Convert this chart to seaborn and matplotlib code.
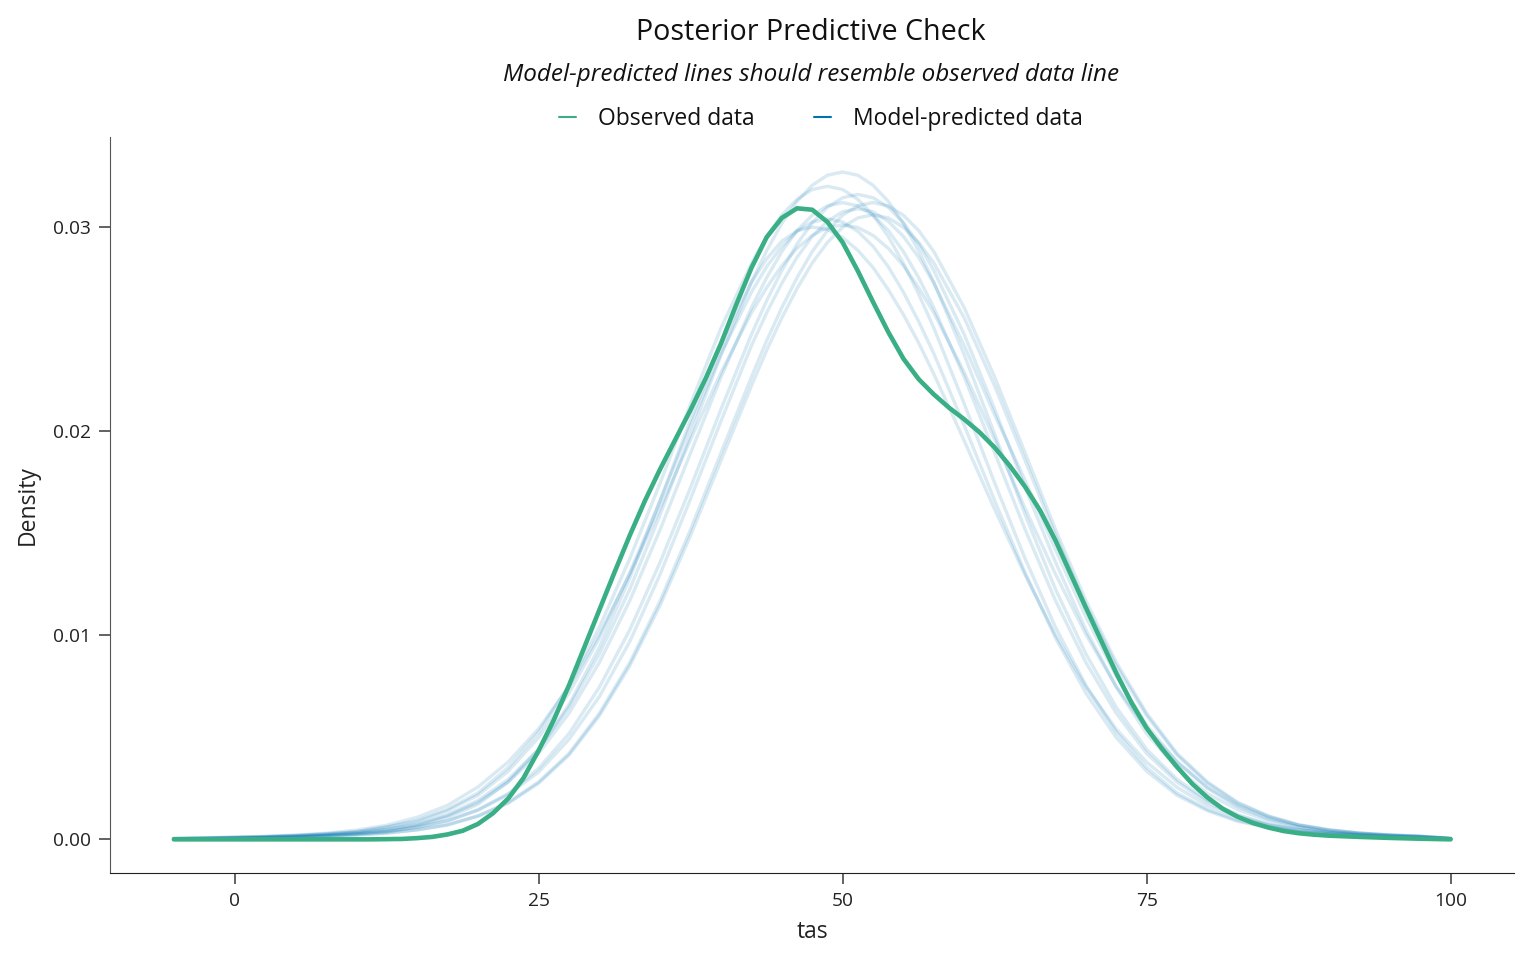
import numpy as np
import pandas as pd
import matplotlib
matplotlib.use("Agg")
import matplotlib.pyplot as plt
from matplotlib.lines import Line2D
import seaborn as sns

obs_tas = [-5, -2.5, 0, 2.5, 5, 7.5,
           10, 11.25, 12.5, 13.75, 15, 16.25, 17.5, 18.75, 20, 21.25, 22.5, 23.75,
           25, 26.25, 27.5, 28.75, 30, 31.25, 32.5, 33.75, 35, 36.25, 37.5, 38.75,
           40, 41.25, 42.5, 43.75, 45, 46.25, 47.5, 48.75, 50, 51.25, 52.5, 53.75,
           55, 56.25, 57.5, 58.75, 60, 61.25, 62.5, 63.75, 65, 66.25, 67.5, 68.75,
           70, 71.25, 72.5, 73.75, 75, 76.25, 77.5, 78.75, 80, 81.25, 82.5, 83.75,
           85, 86.25, 87.5, 88.75, 90,
           92.5, 95, 97.5, 100]
observed = [0.0, 0.0, 0.0, 0.0, 0.0, 0.0,
            0.0, 0.0, 0.00001, 0.00002, 0.00006, 0.00012, 0.00024, 0.00042, 0.00075,
            0.00128, 0.00200, 0.00300, 0.00435, 0.00585, 0.00755, 0.00940, 0.01125,
            0.01310, 0.01490, 0.01660, 0.01815, 0.01960, 0.02105, 0.02260, 0.02430,
            0.02620, 0.02800, 0.02950, 0.03045, 0.03092, 0.03085, 0.03025, 0.02925,
            0.02785, 0.02633, 0.02486, 0.02355, 0.02255, 0.02180, 0.02115, 0.02058,
            0.01995, 0.01920, 0.01830, 0.01728, 0.01610, 0.01465, 0.01300, 0.01135,
            0.00975, 0.00815, 0.00670, 0.00545, 0.00445, 0.00355, 0.00272, 0.00205,
            0.00150, 0.00110, 0.00080, 0.00058, 0.00041, 0.00030, 0.00023, 0.00018,
            0.00012, 0.00007, 0.00003, 0.0]

# model-predicted densities, one list per posterior draw
pred_tas = [-5, -2.5, 0, 2.5, 5, 7.5, 10, 12.5, 15, 17.5, 20, 22.5, 25, 27.5, 30, 32.5,
            35, 37.5, 40, 42.5,
            43.75, 45, 46.25, 47.5, 48.75, 50, 51.25, 52.5, 53.75, 55, 56.25,
            57.5, 60, 62.5, 65, 67.5, 70, 72.5, 75, 77.5, 80, 82.5, 85, 87.5, 90,
            92.5, 95, 97.5, 100]
pred_1 = [0.00003, 0.00006, 0.00008, 0.00011, 0.00016, 0.00023, 0.00033, 0.00049, 0.00075, 0.00121,
          0.00190, 0.00294, 0.00441, 0.00647, 0.00909, 0.01226, 0.01592, 0.01985, 0.02374, 0.02730,
          0.02884, 0.03018, 0.03126, 0.03205, 0.03254, 0.03270, 0.03254, 0.03205, 0.03126, 0.03018, 0.02884,
          0.02730, 0.02374, 0.01985, 0.01592, 0.01226, 0.00909, 0.00647, 0.00441, 0.00294, 0.00190,
          0.00121, 0.00075, 0.00049, 0.00033, 0.00023, 0.00016, 0.00011, 0.00003]
pred_2 = [0.00004, 0.00006, 0.00010, 0.00013, 0.00019, 0.00027, 0.00038, 0.00061, 0.00093, 0.00147,
          0.00227, 0.00352, 0.00525, 0.00755, 0.01040, 0.01376, 0.01747, 0.02134, 0.02506, 0.02822,
          0.02954, 0.03059, 0.03136, 0.03184, 0.03200, 0.03184, 0.03136, 0.03059, 0.02954, 0.02822, 0.02672,
          0.02506, 0.02134, 0.01747, 0.01376, 0.01040, 0.00755, 0.00525, 0.00352, 0.00227, 0.00147,
          0.00093, 0.00061, 0.00038, 0.00027, 0.00019, 0.00013, 0.00010, 0.00003]
pred_3 = [0.00003, 0.00004, 0.00006, 0.00009, 0.00013, 0.00019, 0.00027, 0.00038, 0.00060, 0.00092,
          0.00145, 0.00224, 0.00348, 0.00518, 0.00746, 0.01027, 0.01359, 0.01725, 0.02108, 0.02474,
          0.02639, 0.02787, 0.02917, 0.03021, 0.03097, 0.03144, 0.03160, 0.03144, 0.03097, 0.03021, 0.02917,
          0.02787, 0.02474, 0.02108, 0.01725, 0.01359, 0.01027, 0.00746, 0.00518, 0.00348, 0.00224,
          0.00145, 0.00092, 0.00060, 0.00038, 0.00027, 0.00019, 0.00013, 0.00004]
pred_4 = [0.00002, 0.00003, 0.00005, 0.00008, 0.00011, 0.00016, 0.00022, 0.00031, 0.00047, 0.00072,
          0.00115, 0.00181, 0.00281, 0.00421, 0.00618, 0.00867, 0.01170, 0.01519, 0.01894, 0.02265,
          0.02443, 0.02605, 0.02752, 0.02880, 0.02983, 0.03058, 0.03104, 0.03120, 0.03104, 0.03058, 0.02983,
          0.02880, 0.02605, 0.02265, 0.01894, 0.01519, 0.01170, 0.00867, 0.00618, 0.00421, 0.00281,
          0.00181, 0.00115, 0.00072, 0.00047, 0.00031, 0.00022, 0.00016, 0.00005]
pred_5 = [0.00003, 0.00004, 0.00006, 0.00009, 0.00013, 0.00019, 0.00026, 0.00037, 0.00059, 0.00090,
          0.00142, 0.00219, 0.00330, 0.00490, 0.00700, 0.00970, 0.01300, 0.01670, 0.02050, 0.02419,
          0.02580, 0.02725, 0.02852, 0.02954, 0.03028, 0.03075, 0.03090, 0.03075, 0.03028, 0.02954, 0.02852,
          0.02725, 0.02419, 0.02080, 0.01760, 0.01420, 0.01090, 0.00800, 0.00560, 0.00380, 0.00250,
          0.00160, 0.00100, 0.00062, 0.00039, 0.00027, 0.00019, 0.00013, 0.00004]
pred_6 = [0.00004, 0.00006, 0.00009, 0.00013, 0.00018, 0.00026, 0.00036, 0.00058, 0.00088, 0.00140,
          0.00216, 0.00334, 0.00499, 0.00717, 0.00988, 0.01307, 0.01660, 0.02028, 0.02380, 0.02681,
          0.02806, 0.02906, 0.02979, 0.03025, 0.03040, 0.03025, 0.02979, 0.02906, 0.02806, 0.02681, 0.02538,
          0.02380, 0.02028, 0.01660, 0.01307, 0.00988, 0.00717, 0.00499, 0.00334, 0.00216, 0.00140,
          0.00088, 0.00058, 0.00036, 0.00026, 0.00018, 0.00013, 0.00009, 0.00003]
pred_7 = [0.00005, 0.00008, 0.00011, 0.00015, 0.00021, 0.00030, 0.00045, 0.00069, 0.00108, 0.00166,
          0.00256, 0.00379, 0.00542, 0.00749, 0.01005, 0.01300, 0.01622, 0.01960, 0.02288, 0.02580,
          0.02703, 0.02811, 0.02896, 0.02959, 0.02998, 0.03010, 0.02998, 0.02959, 0.02896, 0.02811, 0.02703,
          0.02580, 0.02288, 0.01960, 0.01622, 0.01300, 0.01005, 0.00749, 0.00542, 0.00379, 0.00256,
          0.00166, 0.00108, 0.00069, 0.00045, 0.00030, 0.00021, 0.00015, 0.00005]
pred_8 = [0.00002, 0.00003, 0.00005, 0.00008, 0.00011, 0.00015, 0.00021, 0.00031, 0.00046, 0.00070,
          0.00113, 0.00177, 0.00275, 0.00413, 0.00606, 0.00851, 0.01148, 0.01490, 0.01857, 0.02222,
          0.02396, 0.02555, 0.02699, 0.02824, 0.02925, 0.02999, 0.03045, 0.03060, 0.03045, 0.02999, 0.02925,
          0.02824, 0.02555, 0.02222, 0.01857, 0.01490, 0.01148, 0.00851, 0.00606, 0.00413, 0.00275,
          0.00177, 0.00113, 0.00070, 0.00046, 0.00031, 0.00021, 0.00015, 0.00005]
pred_9 = [0.00003, 0.00004, 0.00006, 0.00009, 0.00012, 0.00018, 0.00027, 0.00042, 0.00066, 0.00108,
          0.00171, 0.00282, 0.00441, 0.00660, 0.00942, 0.01281, 0.01662, 0.02055, 0.02424, 0.02730,
          0.02844, 0.02931, 0.02982, 0.03000, 0.02988, 0.02949, 0.02886, 0.02802, 0.02694, 0.02571, 0.02433,
          0.02280, 0.01953, 0.01617, 0.01296, 0.01002, 0.00747, 0.00540, 0.00378, 0.00255, 0.00165,
          0.00108, 0.00069, 0.00045, 0.00030, 0.00021, 0.00015, 0.00011, 0.00004]
pred_10 = [0.00003, 0.00005, 0.00008, 0.00011, 0.00016, 0.00022, 0.00031, 0.00047, 0.00072, 0.00115,
           0.00181, 0.00281, 0.00421, 0.00618, 0.00867, 0.01170, 0.01519, 0.01894, 0.02265, 0.02605,
           0.02752, 0.02880, 0.02983, 0.03058, 0.03104, 0.03120, 0.03104, 0.03058, 0.02983, 0.02880, 0.02752,
           0.02605, 0.02265, 0.01894, 0.01519, 0.01170, 0.00867, 0.00618, 0.00421, 0.00281, 0.00181,
           0.00115, 0.00072, 0.00047, 0.00031, 0.00022, 0.00016, 0.00011, 0.00003]

predicted = [pred_1, pred_2, pred_3, pred_4, pred_5, pred_6, pred_7, pred_8, pred_9, pred_10]

obs_color = "#3aaf85"
pred_color = "#0072b2"

# long form table for seaborn
rows = []
for i, dens in enumerate(predicted):
    for x, d in zip(pred_tas, dens):
        rows.append({"tas": x, "density": d, "draw": i})
pred_df = pd.DataFrame(rows)
obs_df = pd.DataFrame({"tas": obs_tas, "density": observed})

sns.set_style("ticks")
plt.rcParams["font.family"] = ["Open Sans", "DejaVu Sans"]

fig = plt.figure(figsize=(15.36, 9.6), dpi=100)
ax = fig.add_axes([0.0716, 0.0906, 0.9144, 0.7664])

sns.lineplot(data=pred_df, x="tas", y="density", units="draw", estimator=None,
             color=pred_color, alpha=0.15, linewidth=2.4, ax=ax, legend=False)
sns.lineplot(data=obs_df, x="tas", y="density", color=obs_color,
             linewidth=3.3, ax=ax, legend=False)

ax.set_xlim(-10.25, 105.25)
ax.set_ylim(-0.00165, 0.0344)
ax.set_xticks([0, 25, 50, 75, 100])
ax.set_yticks([0.0, 0.01, 0.02, 0.03])
ax.set_yticklabels(["0.00", "0.01", "0.02", "0.03"])
ax.set_xlabel("tas", fontsize=16.5, labelpad=7, color="#222222")
ax.set_ylabel("Density", fontsize=16.5, labelpad=9, color="#222222")
ax.tick_params(axis="both", labelsize=13.8, length=8, width=1.3, color="#555555",
               labelcolor="#222222", pad=6)
sns.despine(ax=ax)
ax.spines["left"].set_color("#555555")
ax.spines["bottom"].set_color("#222222")

fig.text(0.528, 0.966, "Posterior Predictive Check", ha="center", va="center",
         fontsize=20.6, color="#111111")
fig.text(0.528, 0.9215, "Model-predicted lines should resemble observed data line",
         ha="center", va="center", fontsize=17.5, style="italic", color="#111111")

handles = [Line2D([0], [0], color=obs_color, lw=1.5),
           Line2D([0], [0], color=pred_color, lw=1.5)]
fig.legend(handles, ["Observed data", "Model-predicted data"], loc="center",
           bbox_to_anchor=(0.5345, 0.876), ncol=2, frameon=False, fontsize=16.5,
           handlelength=0.75, handletextpad=0.95, columnspacing=2.6,
           labelcolor="#111111")

plt.savefig("out.png", dpi=100)
